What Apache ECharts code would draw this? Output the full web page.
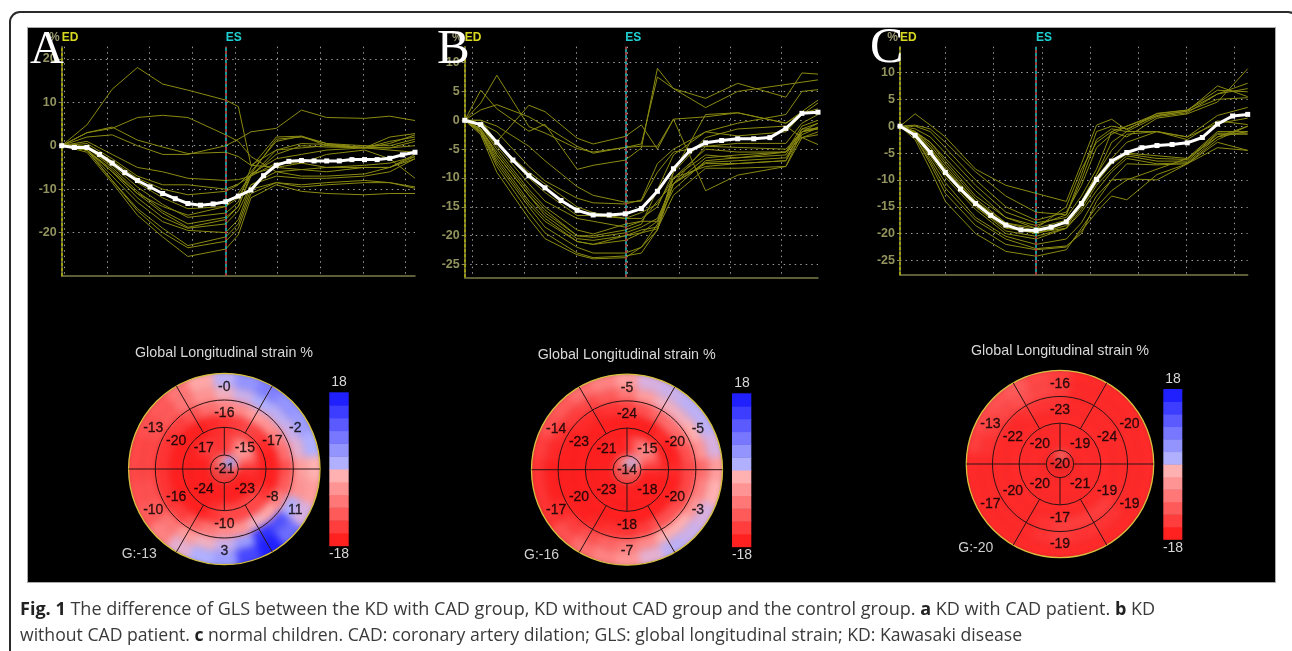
<!DOCTYPE html>
<html><head><meta charset="utf-8">
<style>
html,body{margin:0;padding:0;width:1292px;height:651px;overflow:hidden;background:#fff}
#frame{position:absolute;left:9px;top:11px;width:1290px;height:700px;border:2px solid #2a2a2a;border-radius:11px;box-sizing:border-box}
#panel{position:absolute;left:28px;top:28px;width:1247px;height:554px;background:#000;box-shadow:0 0 0 1px #aaa}
#heat,#top{position:absolute;left:0;top:0;width:1292px;height:651px}
#heat{filter:blur(3.5px)}
#top{filter:blur(0.35px)}
</style>
<script src="https://cdn.jsdelivr.net/npm/echarts@6/dist/echarts.min.js"></script>
</head><body>
<div id="frame"></div><div id="panel"></div><div id="heat"></div><div id="top"></div>
<script>
// ---- strain curves: frames sampled, thin segment lines, thick average ----
const framesA = [0,2,4,6,8,10,13,14,15,17,19,21,24,26,28];
const linesA = [
 [0,4.8,13,18,14.2,12.8,10.5,9,-4.5,-5,-4,-2,-1,-3,-7.5],
 [0,3,4,6.5,7,6.5,2.5,1,-2.5,-6,-5.5,-5,-4.5,-4,-2.5],
 [0,2,2.5,0,-2,-2,0,1.5,3.2,4,8.2,6.5,6.3,6.8,5.8],
 [0,3,4.3,1.3,-0.3,-1.8,-1.5,-2.5,-4.5,-1,-0.5,0,-0.3,-0.5,1],
 [0,1,-2,-5,-6,-7.5,-8,-7.8,-7,-2,0,-0.3,-0.5,2,2.8],
 [0,0.5,-3,-7,-9,-9,-10,-8.8,-7,-1,0.5,0.3,-0.5,1,2],
 [0,0,-3.5,-7.5,-10,-11.3,-10.5,-9,-6,1,2.2,0.5,0,0,1.5],
 [0,-0.5,-4,-8.5,-12,-14.5,-14,-11,-6.5,1.5,2,0.5,-0.5,-0.5,0],
 [0,-0.5,-4.5,-9.5,-13.5,-16.5,-15.5,-13,-5,2,2.2,0,-0.5,-1,-1.5],
 [0,-0.5,-5,-10.5,-15,-18,-16.5,-14,-7,-4,-4,-5,-5,-5,-2.5],
 [0,-1,-5.5,-11,-15.5,-18.8,-17,-14,-6.5,-5,-5.5,-6,-5,-5,-2],
 [0,-1,-6,-12,-16.5,-19,-18,-15,-9,-6,-7,-7,-6.5,-5,-3],
 [0,-1,-7,-13,-17.5,-19.5,-20,-17,-9,-7,-7.5,-7.5,-7,-6,-3],
 [0,-1,-8,-14.5,-19,-23,-21,-18,-10,-8.5,-9,-8.5,-8,-8.5,-9.5],
 [0,-1,-8,-15,-20,-23.5,-22,-19,-11,-8.5,-9.5,-9,-8.5,-8.5,-9.8],
 [0,-1.5,-8.5,-16,-21,-25.5,-23.8,-20.5,-12,-9,-10.5,-11,-11.3,-11,-11],
 [0,-1,-6,-11,-14,-16,-14,-12,-6.5,-3,-2,-1,-0.5,0.5,2.5]
];
const avgA = [0,-0.4,-0.4,-2,-4,-6.2,-8,-9.5,-11,-12.2,-13.3,-13.7,-13.4,-12.9,-11.6,-10.2,-6.9,-4.5,-3.6,-3.4,-3.5,-3.5,-3.5,-3.2,-3.2,-3.2,-2.9,-2.1,-1.5];

const framesB = [0,1,2,4,5,7,8,10,11,12,13,15,17,20,21,22];
const linesB = [
 [0,5.2,2,-1.9,-0.7,-8.5,-7.8,-6.9,-4.8,9,5.5,2.2,5,6.2,6.6,7],
 [0,3,7.8,-1.1,-2.2,-4.9,-5.5,-4.7,-4.1,7.5,5.5,3.8,6.4,4,8.2,8],
 [0,1.8,2.7,0.6,-1,-4.5,-5.7,-4.7,-4.5,-4.5,0.2,0.6,1.3,-0.5,1.2,2],
 [0,0,-3.7,2.6,1.5,-3.1,-4.1,-2.8,-0.8,-5,0.2,-12.2,-9.5,-8,-2,-1.5],
 [0,0,-1,-4.5,-7,-11.5,-13,-14.2,-14,-9,-5.5,-4.5,-4.7,-5,-2,-1.3],
 [0,-0.5,-2,-8,-10.5,-13.5,-14.3,-14.5,-13.8,-7.5,-5,-2,-2.7,-2,1,3],
 [0,-1,-4,-10,-12.5,-16.5,-16.5,-17,-16,-14.5,-10,-5,-5.5,-5.5,-1,0],
 [0,-1,-4.5,-11,-14,-17,-17.5,-18.5,-17.5,-14,-11,-6.5,-6,-5.5,-2,-0.5],
 [0,-1,-5,-12,-15,-19,-19.7,-18,-17.5,-17.5,-12,-7,-6.5,-6,-1.5,-0.5],
 [0,-1.5,-5.5,-12.5,-15.5,-20,-20.3,-19.5,-18.5,-17,-11,-7.3,-7,-6.5,-2,-1.2],
 [0,-1.5,-6,-13,-16.5,-20.5,-20.8,-20,-19,-18.5,-11,-7.5,-7.5,-7,-2.5,-1.3],
 [0,-1.8,-6.5,-14,-17,-21,-21.5,-20,-19.5,-17.5,-10,-8,-7.5,-7,-1.5,-1.5],
 [0,-2,-7,-14.5,-17.5,-21,-21.5,-20.8,-19.5,-18.8,-13,-8.3,-8.3,-8,-3,-2],
 [0,-2,-7.5,-15,-18.5,-22,-23,-23,-22,-18,-10,-6,-6.5,-5.5,-3,-2.5],
 [0,-2.2,-8,-16,-19.5,-23,-23.8,-23.5,-23,-19,-11,-4.5,-4,-4,-0.5,1],
 [0,-2.5,-9,-17,-20.5,-23.3,-24,-23.8,-22,-19,-9,1,1.3,-0.5,1.5,3.5],
 [0,-1,-4,-9,-11,-15,-16,-17,-17,-15,-9,-3,-1.5,-1,-3,-4.2],
 [0,-1.5,-6,-13,-16,-20,-20,-19,-18,-12,-6,-2,-0.5,1,5,5.3]
];
const avgB = [0,-0.75,-3.8,-6.9,-9.6,-11.7,-13.9,-15.6,-16.4,-16.4,-16.2,-15.3,-12.3,-8.4,-5.3,-3.9,-3.5,-3.2,-3.2,-3,-1.4,1.2,1.4];

const framesC = [0,1,2,3,5,7,9,11,12,13,14,15,17,19,21,23];
const linesC = [
 [0,2.3,0.2,-2,-8,-11,-12.5,-14,-7,0.2,1.3,-0.7,2.4,3,6.7,6.4],
 [0,0.2,-0.5,-3,-8.5,-13,-16,-16.5,-9,-1,0,-0.5,2,2.8,7.5,5.5],
 [0,0,-1,-4,-10,-15,-17.5,-16,-11,-4,-1.5,0,2.3,3,6,8],
 [0,-0.5,-2,-5,-11,-16,-18,-17,-13,-8,-1,-2,1.5,2.3,4.5,10.7],
 [0,-1,-3,-6.5,-13,-17,-19,-17.5,-14,-9,-4.5,-1.5,-1,-2,2,3.5],
 [0,-1,-3.5,-7,-13.5,-18,-19.5,-18,-14.5,-9.5,-6,-3,-1,-2.5,1,0.3],
 [0,-1.2,-4,-7.5,-14,-18.5,-20,-18,-14.5,-10,-6.5,-5,-5.5,-6,-1,-1],
 [0,-1.2,-4.5,-8,-14.5,-18.8,-20,-18.5,-15,-10.5,-7,-5.2,-6,-6.2,-1.3,-1.3],
 [0,-1.5,-5,-9,-15,-19.5,-20.5,-19,-15.5,-11,-8,-5.5,-6.5,-6.5,-1.5,-1.5],
 [0,-1.5,-5.5,-9.5,-15.5,-20,-21,-19,-16,-12,-8.5,-6,-7,-6.8,-2,-1],
 [0,-1.5,-6,-10.5,-17,-20.5,-22,-21,-18,-13,-10,-7,-7.2,-7,-2.5,0],
 [0,-2,-6.5,-11.5,-17.5,-21,-22.8,-22.3,-20,-14,-10,-9.8,-10,-7,-3,-4.5],
 [0,-2,-7,-12.5,-18.5,-22,-23,-22.5,-19.5,-16,-13,-13.7,-9,-7,-4,-4.5],
 [0,-2.5,-8,-14,-20,-23.3,-24.2,-23,-19,-15,-12,-10,-8,-6,-2,0],
 [0,-1.5,-5,-9,-15,-19,-19.8,-19,-14,-9,-3,-1,1.8,2.5,6,7],
 [0,-1,-4,-8,-14,-18,-19,-15,-8,-3,-1,0,2,2.8,5,5.3],
 [0,-1,-3,-6,-12,-17,-18.5,-16.5,-10,-2.5,-0.5,-1,-1,-2,0.5,1.5]
];
const avgC = [0,-1.7,-4.9,-8.6,-11.7,-14.4,-16.6,-18.4,-19.3,-19.4,-18.8,-17.8,-14.4,-9.9,-6.5,-4.9,-4,-3.6,-3.4,-3.1,-2.1,0.4,1.9,2.2];

// ---- axis ticks ----
const yTicksA = [-20,-10,0,10,20];
const yTicksB = [-25,-20,-15,-10,-5,0,5,10];
const yTicksC = [-25,-20,-15,-10,-5,0,5,10];
const xGuidesA = [0.21,3.59,6.97,10.35,13.73,17.11,20.49,23.87,27.25];
const xGuidesB = [0.5,3.71,6.92,10.13,13.35,16.52,19.73];
const xGuidesC = [2.98,6.18,9.38,12.58,15.78,18.96,22.14];

// ---- bullseye labels, clockwise from 12 o'clock ----
const outerA = ['-0','-2','11','3','-10','-13'];
const midA   = ['-16','-17','-8','-10','-16','-20'];
const innerA = ['-15','-23','-24','-17'];
const apexA  = ['-21'];
const outerB = ['-5','-5','-3','-7','-17','-14'];
const midB   = ['-24','-20','-20','-18','-20','-23'];
const innerB = ['-15','-18','-23','-21'];
const apexB  = ['-14'];
const outerC = ['-16','-20','-19','-19','-17','-13'];
const midC   = ['-23','-24','-19','-17','-20','-22'];
const innerC = ['-19','-21','-20','-20'];
const apexC  = ['-20'];

// ---- strain colour: six bands from apex to rim, 24 bearings each ----
const heatRadii = [0,14,35,55,69,82,100];
const heatA = [
 [-2,2,6,6,4,-2,-8,-12,-14,-14,-14,-14,-14,-14,-14,-14,-14,-14,-12,-12,-10,-10,-8,-6],
 [-16,-13,-8,-5,-7,-12,-16,-17,-18,-18,-18,-18,-18,-18,-18,-18,-18,-18,-18,-18,-17,-15,-15,-16],
 [-16,-15,-14,-15,-17,-18,-18,-18,-16,-14,-14,-14,-14,-16,-18,-18,-18,-18,-18,-18,-18,-18,-18,-17],
 [-8,-7,-5,-6,-8,-10,-13,-12,-8,-4,-2,-6,-7,-9,-12,-15,-16,-16,-16,-16,-16,-15,-13,-10],
 [-2,1,3,2,1,-1,-5,-6,3,13,16,5,1,-2,-5,-9,-12,-13,-14,-14,-13,-12,-9,-6],
 [2,6,8,6,5,3,-3,-5,0,10,18,14,5,3,-1,-8,-12,-13,-14,-14,-13,-12,-9,-4]
];
const heatB = [
 [-3,1,2,1,-2,-5,-8,-10,-11,-11,-12,-12,-12,-12,-12,-12,-12,-12,-12,-11,-10,-8,-6,-5],
 [-17,-13,-9,-7,-9,-13,-16,-18,-18,-18,-18,-18,-18,-18,-18,-18,-18,-18,-18,-18,-18,-18,-17,-18],
 [-18,-18,-18,-17,-18,-18,-17,-18,-18,-18,-18,-18,-18,-18,-18,-18,-18,-18,-18,-18,-18,-18,-18,-18],
 [-15,-13,-11,-10,-11,-13,-14,-14,-14,-13,-13,-15,-16,-16,-17,-18,-18,-18,-18,-18,-18,-17,-17,-16],
 [-9,-5,-2,-2,-3,-6,-10,-8,-6,-3,-3,-7,-9,-11,-13,-15,-17,-18,-18,-17,-16,-15,-14,-12],
 [-5,0,1,2,2,0,-5,-3,0,1,2,-1,-6,-8,-10,-13,-16,-16,-16,-15,-13,-12,-10,-8]
];
const heatC = [
 [-10,-8,-11,-14,-16,-17,-17,-17,-17,-17,-17,-17,-17,-17,-17,-17,-17,-17,-17,-17,-17,-16,-15,-12],
 [-17,-17,-17,-17,-17,-17,-17,-17,-17,-17,-17,-17,-17,-17,-17,-17,-17,-17,-17,-17,-17,-17,-17,-17],
 [-17,-17,-17,-17,-17,-17,-17,-17,-17,-17,-17,-17,-17,-17,-17,-17,-17,-17,-17,-17,-17,-17,-17,-17],
 [-16,-17,-17,-17,-17,-17,-17,-17,-16,-15,-15,-15,-15,-16,-17,-17,-17,-17,-17,-17,-17,-17,-16,-16],
 [-15,-17,-17,-17,-17,-17,-17,-17,-17,-16,-16,-16,-15,-16,-17,-17,-17,-17,-17,-16,-15,-14,-13,-14],
 [-15,-17,-17,-17,-17,-17,-17,-17,-17,-17,-17,-17,-17,-17,-17,-17,-17,-17,-17,-15,-14,-13,-12,-14]
];
const scaleStops = [-18,-15,-12,-9,-6,-3,0,3,6,9,12,15,18];
const scaleColors = ['#ff2020','#ff3d3d','#ff5a5a','#ff7777','#ff9494','#ffb0b0','#d8b0e0','#b0b0ff','#9494ff','#7777ff','#5a5aff','#3d3dff','#2020ff'];

// ---- layout (geometry of the three panels, not data) ----
const curvePanels = [
 {frames:framesA,lines:linesA,avg:avgA,yTicks:yTicksA,xGuides:xGuidesA,es:13,xMax:28,yMin:-30,yMax:22.8,left:61.7,right:415,top:46.7,bottom:276},
 {frames:framesB,lines:linesB,avg:avgB,yTicks:yTicksB,xGuides:xGuidesB,es:10,xMax:22,yMin:-27.2,yMax:12.75,left:464.7,right:818,top:46.7,bottom:277.3},
 {frames:framesC,lines:linesC,avg:avgC,yTicks:yTicksC,xGuides:xGuidesC,es:9,xMax:23,yMin:-27.7,yMax:14.8,left:900,right:1247.7,top:46.7,bottom:275}
];
const eyePanels = [
 {heat:heatA,outer:outerA,mid:midA,inner:innerA,apex:apexA,cx:224.3,cy:469,rim:95.7,barL:329.3,barR:348.7,barT:392.3,barB:545.7,g:'G:-13',gx:121.7,gy:554,tx:224,ty:353.3,hi:[339,382],lo:[339,554]},
 {heat:heatB,outer:outerB,mid:midB,inner:innerB,apex:apexB,cx:627,cy:469.7,rim:95.5,barL:732,barR:751.3,barT:393.3,barB:546.7,g:'G:-16',gx:524,gy:555,tx:626.7,ty:354.7,hi:[742,383],lo:[742,555]},
 {heat:heatC,outer:outerC,mid:midC,inner:innerC,apex:apexC,cx:1060,cy:464,rim:93.7,barL:1163.3,barR:1182.3,barT:389,barB:539.3,g:'G:-20',gx:958.3,gy:547.7,tx:1060,ty:351,hi:[1173,379],lo:[1173,548]}
];
const RIM = 95.7, AXIS_R = 110;
const ringRadii = [14,41.7,69,RIM];
const innerSpokes = [0,90,180,270];
const outerSpokes = [30,150,210,330];

// ---- heat layer: drawn through polar axes, softened by the CSS blur ----
const heatChart = echarts.init(document.getElementById('heat'),null,{renderer:'canvas'});
function polarOf(e,i){return {id:'p'+i,center:[e.cx,e.cy],radius:AXIS_R*e.rim/RIM};}
function sectorItem(params,api){
  const c=params.coordSys, rIn=api.value(0), b=api.value(1), rOut=api.value(3);
  const pIn=api.coord([rIn,b]), pOut=api.coord([rOut,b]), pA=api.coord([rOut,b-8]), pB=api.coord([rOut,b+8]);
  const a0=Math.atan2(pA[1]-c.cy,pA[0]-c.cx);
  let a1=Math.atan2(pB[1]-c.cy,pB[0]-c.cx); if(a1<a0)a1+=Math.PI*2;
  return {type:'sector',shape:{cx:c.cx,cy:c.cy,r0:Math.hypot(pIn[0]-c.cx,pIn[1]-c.cy),r:Math.hypot(pOut[0]-c.cx,pOut[1]-c.cy),startAngle:a0,endAngle:a1,clockwise:true},style:{fill:api.visual('color')}};
}
heatChart.setOption({
  animation:false,
  polar:eyePanels.map(polarOf),
  angleAxis:eyePanels.map((e,i)=>({polarIndex:i,show:false,min:0,max:360,startAngle:90})),
  radiusAxis:eyePanels.map((e,i)=>({polarIndex:i,show:false,min:0,max:AXIS_R})),
  visualMap:{show:false,type:'continuous',min:-18,max:18,dimension:2,inRange:{color:scaleColors}},
  series:eyePanels.map((e,i)=>{
    const data=[];
    e.heat.forEach((row,k)=>row.forEach((v,j)=>data.push([heatRadii[k],j*15,v,heatRadii[k+1]])));
    return {type:'custom',coordinateSystem:'polar',polarIndex:i,data,renderItem:sectorItem,silent:true};
  })
});

// ---- top layer ----
const chart = echarts.init(document.getElementById('top'),null,{renderer:'canvas'});
const grids=[],xAxes=[],yAxes=[],series=[],graphics=[];
curvePanels.forEach((p,i)=>{
  grids.push({left:p.left,top:p.top,width:p.right-p.left,height:p.bottom-p.top});
  xAxes.push({gridIndex:i,type:'value',min:0,max:p.xMax,
    axisLine:{show:true,onZero:false,lineStyle:{color:'#7c7c4a',width:1.5}},
    splitLine:{show:true,lineStyle:{color:'#9a9a9a',width:1,type:[1.5,4]}},
    minorTick:{show:false},
    axisLabel:{show:false,customValues:p.xGuides},
    axisTick:{show:false,customValues:p.xGuides}});
  yAxes.push({gridIndex:i,type:'value',min:p.yMin,max:p.yMax,name:'%',nameLocation:'end',nameGap:3,
    nameTextStyle:{color:'#9a9a70',fontSize:12,fontWeight:'bold',fontFamily:'Liberation Sans',align:'right',padding:[0,2,0,0]},
    axisLine:{show:true,onZero:false,lineStyle:{color:'#8a8a50',width:1.5}},
    axisTick:{show:true,length:3,inside:false,lineStyle:{color:'#8a8a50'},customValues:p.yTicks},
    axisLabel:{show:true,color:'#93935f',fontSize:12.5,fontWeight:'bold',fontFamily:'Liberation Sans',margin:5,customValues:p.yTicks},
    splitLine:{show:true,lineStyle:{color:'#9a9a9a',width:1,type:[1.5,4]}}});
  p.lines.forEach(l=>series.push({type:'line',xAxisIndex:i,yAxisIndex:i,showSymbol:false,symbol:'none',silent:true,z:3,
    lineStyle:{color:'#8a8a12',width:1},data:p.frames.map((f,k)=>[f,l[k]])}));
  series.push({type:'line',xAxisIndex:i,yAxisIndex:i,symbol:'rect',symbolSize:5,showSymbol:true,silent:true,z:5,
    itemStyle:{color:'#fff'},lineStyle:{color:'#fff',width:3},data:p.avg.map((v,k)=>[k,v]),
    markLine:{silent:true,symbol:'none',animation:false,precision:4,
      data:[
        {xAxis:0,lineStyle:{color:'#b0b000',width:1.5,type:[3,2]},
         label:{show:true,formatter:'ED',position:'end',color:'#d8d820',fontWeight:'bold',fontSize:12,fontFamily:'Liberation Sans',align:'left',verticalAlign:'bottom',distance:[0,3]}},
        {xAxis:p.es,lineStyle:{color:'#20c8c8',width:1.5,type:'solid'},
         label:{show:true,formatter:'ES',position:'end',color:'#20d0d0',fontWeight:'bold',fontSize:12,fontFamily:'Liberation Sans',align:'left',verticalAlign:'bottom',distance:[0,3]}},
        {xAxis:p.es,lineStyle:{color:'#d02020',width:1.5,type:[3,3]},label:{show:false}}
      ]}});
});
eyePanels.forEach((e,i)=>{
  const gi=3+i;
  grids.push({left:e.barL,top:e.barT,width:e.barR-e.barL,height:e.barB-e.barT});
  xAxes.push({gridIndex:gi,type:'value',min:0,max:1,show:false});
  yAxes.push({gridIndex:gi,type:'value',min:-18,max:18,show:false});
  const bands=scaleStops.slice(0,-1).map((s,k)=>[s,scaleStops[k+1],k<6?k:k+1]);
  series.push({type:'custom',xAxisIndex:gi,yAxisIndex:gi,silent:true,z:7,data:bands,encode:{y:[0,1]},clip:false,
    renderItem:(params,api)=>{
      const a=api.coord([0,api.value(1)]), b=api.coord([1,api.value(0)]);
      return {type:'rect',shape:{x:a[0],y:a[1],width:b[0]-a[0],height:b[1]-a[1]+0.5},style:{fill:scaleColors[api.value(2)]}};
    }});
  // rim mask and rings
  series.push({type:'custom',coordinateSystem:'polar',polarIndex:i,silent:true,z:4,data:[[RIM,0]],
    renderItem:(params,api)=>{
      const c=params.coordSys, out=api.coord([AXIS_R,0]), rimPt=api.coord([RIM,0]);
      return {type:'sector',shape:{cx:c.cx,cy:c.cy,r0:Math.abs(rimPt[1]-c.cy),r:Math.abs(out[1]-c.cy),startAngle:0,endAngle:Math.PI*2},style:{fill:'#000'}};
    }});
  series.push({type:'custom',coordinateSystem:'polar',polarIndex:i,silent:true,z:5,data:ringRadii.map(r=>[r,0]),
    renderItem:(params,api)=>{
      const c=params.coordSys, r=api.value(0), pt=api.coord([r,0]);
      return {type:'circle',shape:{cx:c.cx,cy:c.cy,r:Math.abs(pt[1]-c.cy)},
        style:{fill:'none',stroke:r===RIM?'#d8c040':'#2a1414',lineWidth:r===RIM?1.3:1}};
    }});
  const spokes=innerSpokes.map(b=>[ringRadii[0],b,b===90||b===270?RIM:ringRadii[1]])
    .concat(outerSpokes.map(b=>[ringRadii[1],b,RIM]));
  series.push({type:'custom',coordinateSystem:'polar',polarIndex:i,silent:true,z:5,data:spokes,
    renderItem:(params,api)=>{
      const a=api.coord([api.value(0),api.value(1)]), b=api.coord([api.value(2),api.value(1)]);
      return {type:'line',shape:{x1:a[0],y1:a[1],x2:b[0],y2:b[1]},style:{stroke:'#2a1414',lineWidth:1}};
    }});
  const labelData=[];
  e.outer.forEach((t,k)=>labelData.push({value:[82,k*60],name:t}));
  e.mid.forEach((t,k)=>labelData.push({value:[55.5,k*60],name:t}));
  e.inner.forEach((t,k)=>labelData.push({value:[29,45+k*90],name:t}));
  labelData.push({value:[0,0],name:e.apex[0]});
  series.push({type:'scatter',coordinateSystem:'polar',polarIndex:i,silent:true,z:6,symbolSize:1,itemStyle:{color:'rgba(0,0,0,0)'},
    data:labelData,label:{show:true,position:'inside',formatter:'{b}',color:'#000',fontSize:14,fontFamily:'Liberation Sans',textBorderColor:'#000',textBorderWidth:0.3}});
  [[e.hi,'18'],[e.lo,'-18']].forEach(([pos,t])=>graphics.push({type:'text',z:100,x:pos[0],y:pos[1],style:{text:t,fill:'#d8d8d8',font:'14px "Liberation Sans"',textAlign:'center',textVerticalAlign:'middle'}}));
  graphics.push({type:'text',z:100,x:e.tx,y:e.ty,style:{text:'Global Longitudinal strain %',fill:'#d8d8d8',font:'14.3px "Liberation Sans"',textAlign:'center',textVerticalAlign:'middle'}});
  graphics.push({type:'text',z:100,x:e.gx,y:e.gy,style:{text:e.g,fill:'#cfcfcf',font:'14px "Liberation Sans"',textAlign:'left',textVerticalAlign:'middle'}});
});
[['A',30,74,47],['B',437,75,49],['C',870,74,50]].forEach(([t,x,y,s])=>graphics.push({type:'text',z:100,x,y,style:{text:t,fill:'#fff',font:s+'px "Liberation Serif"',textAlign:'left',textVerticalAlign:'bottom'}}));
const cap='"Open Sans"';
graphics.push({type:'text',z:100,x:20,y:610,style:{text:'{b|Fig. 1} The difference of GLS between the KD with CAD group, KD without CAD group and the control group. {b|a} KD with CAD patient. {b|b} KD',
  fill:'#3a3a3a',font:'18.05px '+cap,textVerticalAlign:'middle',rich:{b:{fontWeight:'bold',fontSize:18.05,fontFamily:'Open Sans',fill:'#222'}}}});
graphics.push({type:'text',z:100,x:20,y:636,style:{text:'without CAD patient. {b|c} normal children. CAD: coronary artery dilation; GLS: global longitudinal strain; KD: Kawasaki disease',
  fill:'#3a3a3a',font:'17.62px '+cap,textVerticalAlign:'middle',rich:{b:{fontWeight:'bold',fontSize:17.62,fontFamily:'Open Sans',fill:'#222'}}}});

chart.setOption({
  animation:false,
  polar:eyePanels.map(polarOf),
  angleAxis:eyePanels.map((e,i)=>({polarIndex:i,show:false,min:0,max:360,startAngle:90})),
  radiusAxis:eyePanels.map((e,i)=>({polarIndex:i,show:false,min:0,max:AXIS_R})),
  grid:grids,xAxis:xAxes,yAxis:yAxes,series,graphic:graphics
});
</script>
</body></html>
